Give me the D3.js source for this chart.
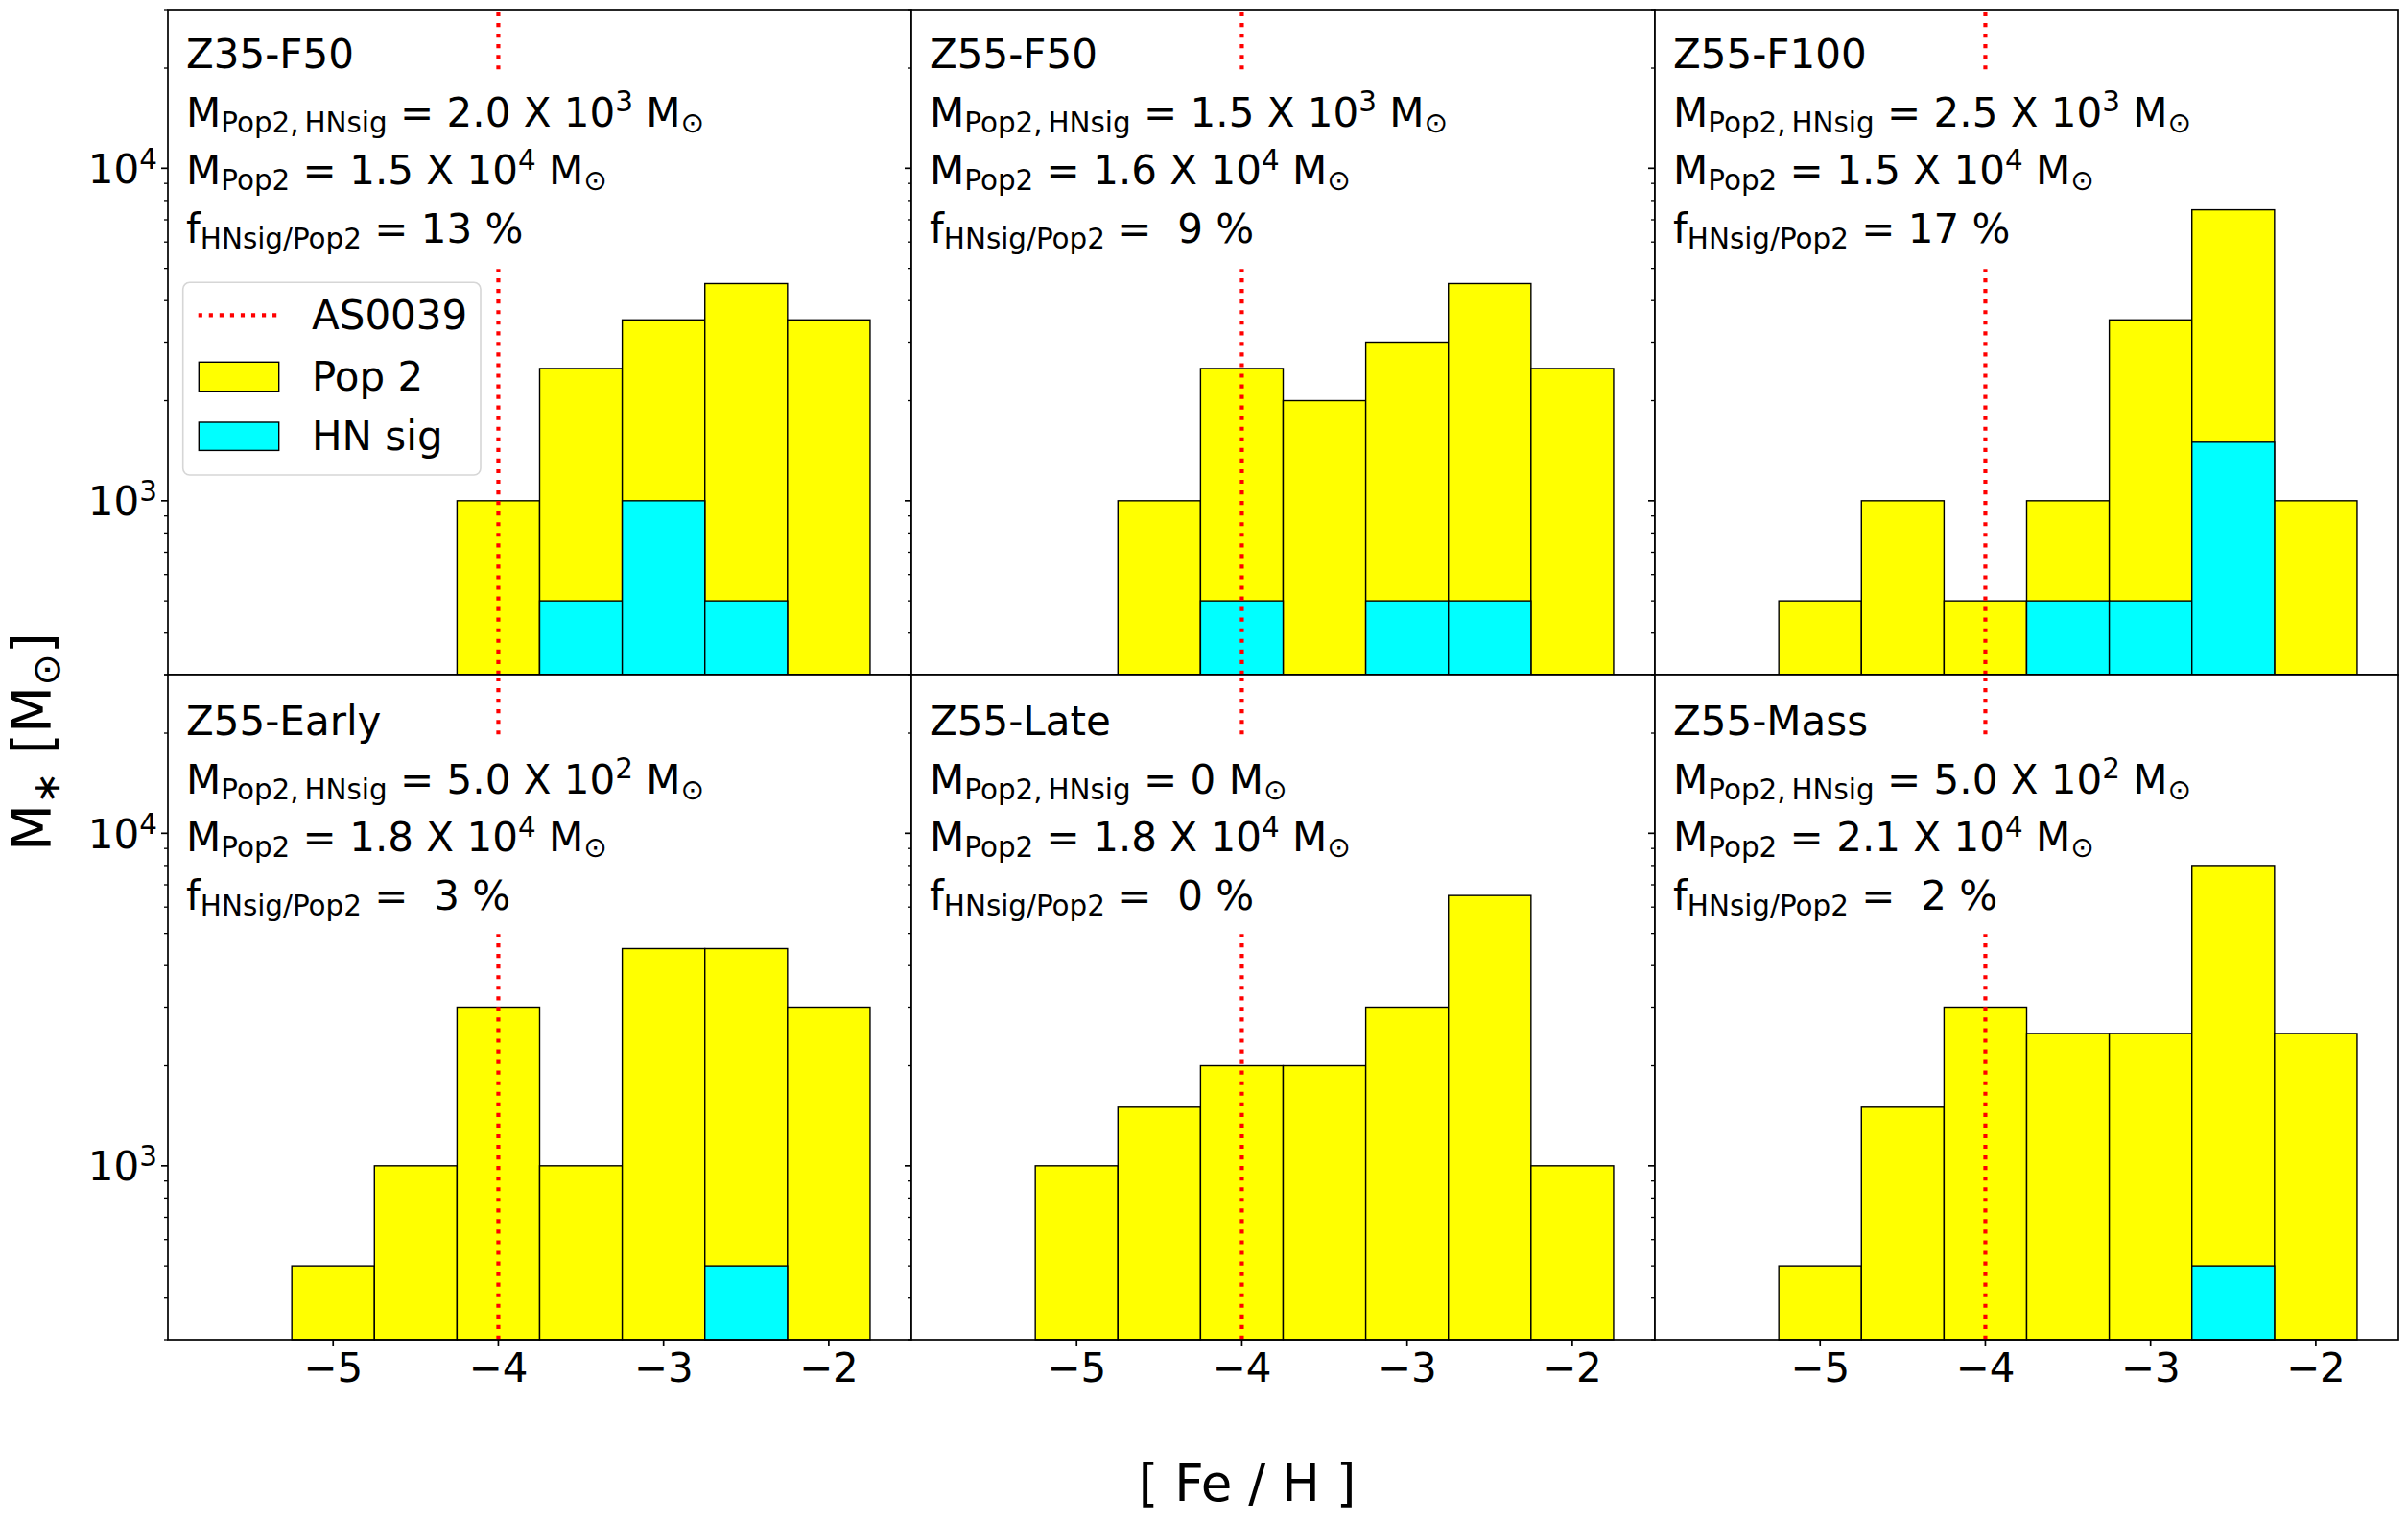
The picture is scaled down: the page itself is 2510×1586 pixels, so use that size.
<!DOCTYPE html>
<html>
<head>
<meta charset="utf-8">
<script src="https://cdn.jsdelivr.net/npm/d3@7"></script>
<style>
  body { margin: 0; background: #fff; }
  text { font-family: "DejaVu Sans"; white-space: pre; fill: #000; }
</style>
</head>
<body>
<svg id="chart" width="2510" height="1586"></svg>
<script>
// histogram bins in [Fe/H]
const binCenters = [-5, -4.5, -4, -3.5, -3, -2.5, -2];
const binWidth = 0.5;

const runNames = ["Z35-F50", "Z55-F50", "Z55-F100", "Z55-Early", "Z55-Late", "Z55-Mass"];

// stellar mass per bin (Msun)
const pop2Mass = [
    [0, 0, 1000, 2500, 3500, 4500, 3500],
    [0, 1000, 2500, 2000, 3000, 4500, 2500],
    [500, 1000, 500, 1000, 3500, 7500, 1000],
    [500, 1000, 3000, 1000, 4500, 4500, 3000],
    [1000, 1500, 2000, 2000, 3000, 6500, 1000],
    [500, 1500, 3000, 2500, 2500, 8000, 2500]
];
const hnSigMass = [
    [0, 0, 0, 500, 1000, 500, 0],
    [0, 0, 500, 0, 500, 500, 0],
    [0, 0, 0, 500, 500, 1500, 0],
    [0, 0, 0, 0, 0, 500, 0],
    [0, 0, 0, 0, 0, 0, 0],
    [0, 0, 0, 0, 0, 500, 0]
];

// annotation numbers
const hnSigMantissa = ["2.0", "1.5", "2.5", "5.0", "0", "5.0"];
const hnSigExponent = [3, 3, 3, 2, null, 2];
const pop2Mantissa = ["1.5", "1.6", "1.5", "1.8", "1.8", "2.1"];
const pop2Exponent = [4, 4, 4, 4, 4, 4];
const hnSigFraction = [13, 9, 17, 3, 0, 2];

const refFeH = -4;          // AS0039
const xTicks = [-5, -4, -3, -2];
const legendLabels = ["AS0039", "Pop 2", "HN sig"];

let svg = d3.select("#chart");

let marginLeft = 175;
let marginTop = 10;
let panelW = 775;
let panelH = 693;
let fs = 42;

let x = d3.scaleLinear().domain([-6, -1.5]).range([0, panelW]);
let y = d3.scaleLog().domain([300, 30000]).range([panelH, 0]);

// text with sub/superscript pieces
function richText(sel, px, py, pieces, size) {
    let t = sel.append("text").attr("x", px).attr("y", py).attr("font-size", size);
    let shift = 0;
    pieces.forEach(p => {
        let target = p.sub ? size * 0.145 : (p.sup ? -size * 0.36 : 0);
        t.append("tspan")
            .attr("dy", target - shift)
            .attr("font-size", (p.sub || p.sup) ? size * 0.7 : size)
            .text(p.t);
        shift = target;
    });
    return t;
}

runNames.forEach((name, i) => {
    let col = i % 3, row = Math.floor(i / 3);
    let g = svg.append("g")
        .attr("transform", "translate(" + (marginLeft + col * panelW) + "," + (marginTop + row * panelH) + ")");

    g.append("rect").attr("width", panelW).attr("height", panelH).attr("fill", "#fff");

    let bins = binCenters.map((c, k) => ({ c: c, pop2: pop2Mass[i][k], hn: hnSigMass[i][k] }));

    g.selectAll("rect.pop2").data(bins.filter(d => d.pop2 > 0))
        .enter().append("rect")
        .attr("class", "pop2")
        .attr("x", d => x(d.c - binWidth / 2))
        .attr("width", d => x(d.c + binWidth / 2) - x(d.c - binWidth / 2))
        .attr("y", d => y(d.pop2))
        .attr("height", d => panelH - y(d.pop2))
        .attr("fill", "#ffff00").attr("stroke", "#000").attr("stroke-width", 1.4);

    g.selectAll("rect.hn").data(bins.filter(d => d.hn > 0))
        .enter().append("rect")
        .attr("class", "hn")
        .attr("x", d => x(d.c - binWidth / 2))
        .attr("width", d => x(d.c + binWidth / 2) - x(d.c - binWidth / 2))
        .attr("y", d => y(d.hn))
        .attr("height", d => panelH - y(d.hn))
        .attr("fill", "#00ffff").attr("stroke", "#000").attr("stroke-width", 1.4);

    // reference line, split around the annotation (axes fractions)
    [[0, 0.61], [0.91, 1]].forEach(seg => {
        g.append("line")
            .attr("x1", x(refFeH)).attr("x2", x(refFeH))
            .attr("y1", panelH * (1 - seg[0])).attr("y2", panelH * (1 - seg[1]))
            .attr("stroke", "#ff0000").attr("stroke-width", 4.17)
            .attr("stroke-dasharray", "4.17 6.88");
    });

    // annotation
    let tx = 19;
    let by = row === 0 ? 61 : 63;
    g.append("text").attr("x", tx).attr("y", by).attr("font-size", fs).text(name);

    let hnLine = [{ t: "M" }, { t: "Pop2,\u2009HNsig", sub: true }];
    if (hnSigExponent[i] === null) {
        hnLine.push({ t: " = " + hnSigMantissa[i] + " M" });
    } else {
        hnLine.push({ t: " = " + hnSigMantissa[i] + " X 10" }, { t: String(hnSigExponent[i]), sup: true }, { t: " M" });
    }
    hnLine.push({ t: "\u2299", sub: true });
    richText(g, tx, by + 60.5, hnLine, fs);

    richText(g, tx, by + 121, [
        { t: "M" }, { t: "Pop2", sub: true },
        { t: " = " + pop2Mantissa[i] + " X 10" }, { t: String(pop2Exponent[i]), sup: true },
        { t: " M" }, { t: "\u2299", sub: true }
    ], fs);

    richText(g, tx, by + 181.5, [
        { t: "f" }, { t: "HNsig/Pop2", sub: true },
        { t: " = " + String(hnSigFraction[i]).padStart(2, " ") + " %" }
    ], fs);

    // legend in first panel
    if (i === 0) {
        let lg = g.append("g").attr("transform", "translate(15.7,284.3)");
        lg.append("rect").attr("width", 310.3).attr("height", 200.7).attr("rx", 7)
            .attr("fill", "#fff").attr("fill-opacity", 0.8)
            .attr("stroke", "#d6d6d6").attr("stroke-width", 1.6);
        lg.append("line").attr("x1", 16).attr("x2", 97.6).attr("y1", 34).attr("y2", 34)
            .attr("stroke", "#ff0000").attr("stroke-width", 4.17).attr("stroke-dasharray", "4.17 6.88");
        lg.append("rect").attr("x", 16.6).attr("y", 83).attr("width", 83.4).attr("height", 30.4)
            .attr("fill", "#ffff00").attr("stroke", "#000").attr("stroke-width", 1.4);
        lg.append("rect").attr("x", 16.6).attr("y", 145.7).attr("width", 83.4).attr("height", 29.4)
            .attr("fill", "#00ffff").attr("stroke", "#000").attr("stroke-width", 1.4);
        [49, 112.4, 174.7].forEach((ly, k) => {
            lg.append("text").attr("x", 134.3).attr("y", ly).attr("font-size", fs).text(legendLabels[k]);
        });
    }

    // frame
    g.append("rect").attr("width", panelW).attr("height", panelH)
        .attr("fill", "none").attr("stroke", "#000").attr("stroke-width", 1.7);

    // y ticks (log)
    let yt = y.ticks();
    let isMajor = v => Math.abs(Math.log10(v) - Math.round(Math.log10(v))) < 1e-9;
    g.selectAll("line.ytick").data(yt).enter().append("line")
        .attr("x1", 0).attr("x2", d => isMajor(d) ? -7 : -4)
        .attr("y1", d => y(d)).attr("y2", d => y(d))
        .attr("stroke", "#000").attr("stroke-width", d => isMajor(d) ? 1.7 : 1.3);

    if (col === 0) {
        yt.filter(isMajor).forEach(v => {
            let t = g.append("text").attr("x", -11).attr("y", y(v) + 15.3)
                .attr("font-size", fs).attr("text-anchor", "end");
            t.append("tspan").text("10");
            t.append("tspan").attr("dy", -15).attr("font-size", fs * 0.7).text(String(Math.round(Math.log10(v))));
        });
    }

    if (row === 1) {
        g.selectAll("line.xtick").data(xTicks).enter().append("line")
            .attr("x1", d => x(d)).attr("x2", d => x(d))
            .attr("y1", panelH).attr("y2", panelH + 7)
            .attr("stroke", "#000").attr("stroke-width", 1.7);
        g.selectAll("text.xlab").data(xTicks).enter().append("text")
            .attr("x", d => x(d)).attr("y", panelH + 44)
            .attr("font-size", fs).attr("text-anchor", "middle")
            .text(d => "\u2212" + Math.abs(d));
    }
});

// axis titles
svg.append("text").attr("x", 1300).attr("y", 1564)
    .attr("font-size", 53).attr("text-anchor", "middle").text("[ Fe / H ]");

let yl = svg.append("text")
    .attr("transform", "translate(53.3,773) rotate(-90)")
    .attr("font-size", 57).attr("text-anchor", "middle");
yl.append("tspan").text("M");
yl.append("tspan").attr("dy", 9).attr("font-size", 57 * 0.7).text("\u2217");
yl.append("tspan").attr("dy", -9).text(" [M");
yl.append("tspan").attr("dy", 9).attr("font-size", 57 * 0.7).text("\u2299");
yl.append("tspan").attr("dy", -9).text("]");
</script>
</body>
</html>
